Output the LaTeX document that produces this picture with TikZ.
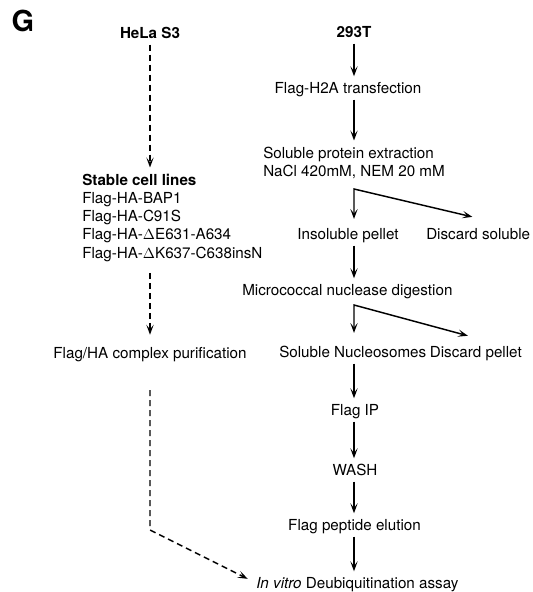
\documentclass[tikz,border=0pt]{standalone}
\usepackage{fontspec}
\setmainfont{TeX Gyre Heros}
\usetikzlibrary{arrows.meta}
\tikzset{
  >={Stealth[length=7.5pt,width=5.5pt,inset=3.5pt]},
  steptext/.style={
    font=\fontsize{11.4}{13.7}\selectfont,
    inner sep=0pt,
    text height=8.2pt,
    text depth=0pt,
  },
  listtext/.style={
    font=\fontsize{11.4}{13.7}\selectfont,
    inner sep=0pt,
    align=left,
  },
  celltext/.style={
    steptext,
    font=\fontsize{11.4}{13.7}\selectfont\bfseries,
  },
  flow/.style={
    ->,
    line width=1.1pt,
    shorten <=4.5pt,
    shorten >=4.5pt,
  },
  dashflow/.style={
    flow,
    dash pattern=on 4.5pt off 3pt,
  },
  split/.style={
    <->,
    line width=1.1pt,
    shorten <=7pt,
    shorten >=4.5pt,
  },
}

\begin{document}
\begin{tikzpicture}[x=0.75pt,y=-0.75pt]
  \useasboundingbox (0,0) rectangle (532,592);

  % Panel letter.
  \node[font=\fontsize{21.7}{26}\selectfont\bfseries, inner sep=0pt,
        text height=15.6pt, text depth=0pt] (panel) at (23,21.5) {G};

  % Column axes and branching points.
  \coordinate (lcol) at (150,0);
  \coordinate (rcol) at (354,0);
  \coordinate (split1) at (354,189);
  \coordinate (split2) at (354,305);
  \coordinate (bend) at (150,530);

  % Stable cell line branch.
  \node[celltext] (hela) at (150,33) {HeLa S3};
  \node[listtext, anchor=north west] (lines) at (82,173.5)
    {\textbf{Stable cell lines}\\
     Flag-HA-BAP1\\
     Flag-HA-C91S\\
     Flag-HA-$\Delta$E631-A634\\
     Flag-HA-$\Delta$K637-C638insN};
  \node[steptext] (purif) at (150,353) {Flag/HA complex purification};

  % Substrate branch.
  \node[celltext] (t293) at (354,32) {293T};
  \node[steptext] (transf) at (348,88) {Flag-H2A transfection};
  \node[listtext, anchor=north west] (extract) at (263,146.5)
    {Soluble protein extraction\\NaCl 420mM, NEM 20 mM};
  \node[steptext] (insol) at (348,234) {Insoluble pellet};
  \node[steptext, anchor=west] (discsol) at (426,234) {Discard soluble};
  \node[steptext, anchor=west] (micro) at (242,290) {Micrococcal nuclease digestion};
  \node[steptext, anchor=west] (solnuc) at (279,352) {Soluble Nucleosomes};
  \node[steptext, anchor=east] (discpel) at (522,352) {Discard pellet};
  \node[steptext] (flagip) at (355,410) {Flag IP};
  \node[steptext] (wash) at (355,470) {WASH};
  \node[steptext] (elution) at (354.5,525) {Flag peptide elution};
  \node[steptext, anchor=west] (assay) at (256,583)
    {\textit{In vitro} Deubiquitination assay};

  % Straight steps down the right column.
  \foreach \from/\to in {t293/transf, transf/extract, insol/micro,
                         solnuc/flagip, flagip/wash, wash/elution, elution/assay}{
    \draw[flow] (rcol |- \from.south) -- (rcol |- \to.north);
  }

  % Fractions kept and discarded.
  \draw[split] (rcol |- insol.north) -- (split1) -- ([yshift=7.5pt]discsol.north);
  \draw[split, shorten <=10pt] (rcol |- solnuc.north) -- (split2)
    -- ([xshift=-1.6pt,yshift=6.7pt]discpel.north);

  % Dashed route of the purified complexes.
  \draw[dashflow] (lcol |- hela.south) -- (lcol |- lines.north);
  \draw[dashflow, shorten <=8.4pt, shorten >=9.4pt] (lcol |- lines.south) -- (lcol |- purif.north);
  \draw[dashflow, shorten <=23.6pt, shorten >=7pt] (lcol |- purif.south) -- (bend) -- (assay.west);
\end{tikzpicture}
\end{document}
